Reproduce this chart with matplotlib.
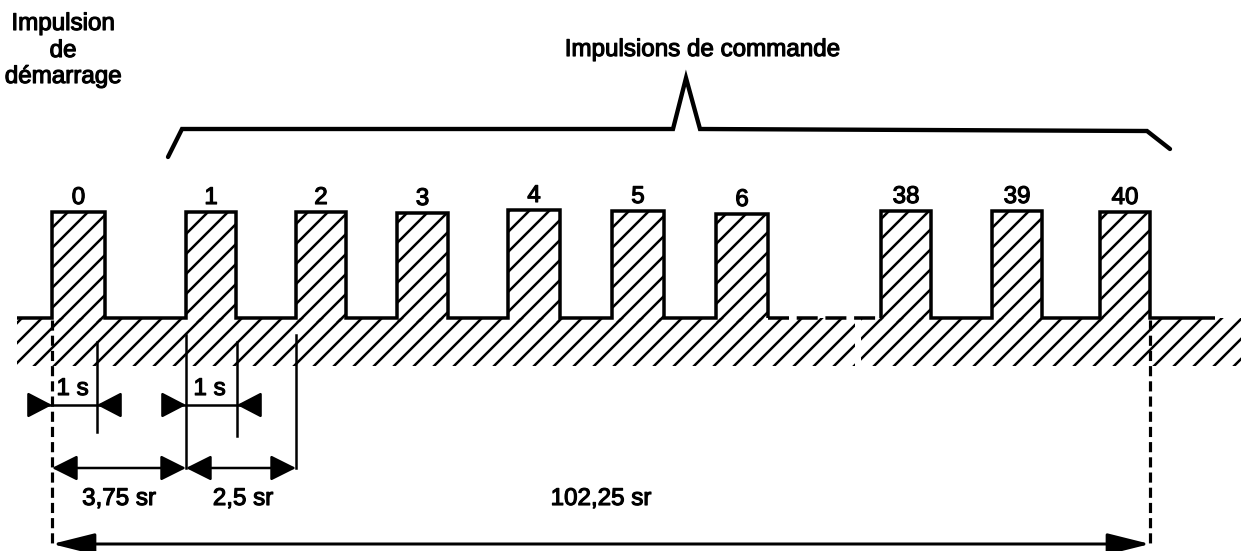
import matplotlib
matplotlib.use("Agg")
import matplotlib.pyplot as plt
from matplotlib.patches import Rectangle
import matplotlib.patheffects as pe

# ---------------- data (diagram units = pixels of the drawing) ----------------
pulse_labels = ["0", "1", "2", "3", "4", "5", "6", "38", "39", "40"]
pulse_start = [52, 186, 296, 397, 508, 612, 716, 881, 992, 1100]
pulse_end = [105, 236, 346, 448, 560, 664, 768, 931, 1042, 1150]
pulse_top = [212, 212, 212, 213, 210, 211, 214, 211, 211, 212]
break_after = 6          # index of last pulse before the interrupted section
baseline_level = 318
line_start, line_end = 17, 1215

dim_labels = ["3,75 sr", "2,5 sr", "102,25 sr"]
one_s_label = "1 s"

# ---------------- figure ----------------
DPI = 120
fig = plt.figure(figsize=(1241 / DPI, 551 / DPI), dpi=DPI)
ax = fig.add_axes([0, 0, 1, 1])
ax.set_xlim(0, 1241)
ax.set_ylim(551, 0)
ax.axis("off")

plt.rcParams["hatch.linewidth"] = 1.5
FONT = "Liberation Sans"
FS = 14.5
LW = 2.1
K = "black"
TXT = dict(fontsize=FS, family=FONT, color=K,
           path_effects=[pe.withStroke(linewidth=0.7, foreground=K)])

# ground hatched band (with a break)
gap_x = 858
ax.add_patch(Rectangle((line_start, baseline_level), gap_x - 3 - line_start, 48,
                       fill=False, hatch="//", lw=0, edgecolor=K))
ax.add_patch(Rectangle((gap_x + 3, baseline_level), 1241 - gap_x, 48,
                       fill=False, hatch="//", lw=0, edgecolor=K))

# pulses: hatch fill
for s, e, t in zip(pulse_start, pulse_end, pulse_top):
    ax.add_patch(Rectangle((s, t), e - s, baseline_level - t + 4,
                           fill=False, hatch="//", lw=0, edgecolor=K))


def wave(idx, x0, x1):
    xs, ys = [x0], [baseline_level]
    for i in idx:
        xs += [pulse_start[i], pulse_start[i], pulse_end[i], pulse_end[i]]
        ys += [baseline_level, pulse_top[i], pulse_top[i], baseline_level]
    xs.append(x1)
    ys.append(baseline_level)
    ax.plot(xs, ys, color=K, lw=LW, solid_joinstyle="miter", solid_capstyle="butt")


wave(range(0, break_after + 1), line_start, pulse_end[break_after])
wave(range(break_after + 1, len(pulse_labels)), pulse_start[break_after + 1], line_end)
ax.plot([pulse_end[break_after], pulse_start[break_after + 1]],
        [baseline_level, baseline_level], color=K, lw=LW, dashes=(6, 2.2))

# pulse labels
for lab, s, e, t in zip(pulse_labels, pulse_start, pulse_end, pulse_top):
    ax.text((s + e) / 2, t - 8, lab, ha="center", va="baseline", **TXT)

# top texts
for txt, y in zip(["Impulsion", "de", "démarrage"], [30, 57, 83]):
    ax.text(63, y, txt, ha="center", va="baseline", **TXT)
ax.text(702, 56, "Impulsions de commande", ha="center", va="baseline", **TXT)

# brace
bx = [168, 182, 673, 686, 700, 1147, 1170]
by = [157, 129, 129, 78, 129, 131, 149]
ax.plot(bx, by, color=K, lw=2.6, solid_joinstyle="miter", solid_capstyle="round")

# ---------------- dimensions ----------------
x0 = pulse_start[0]
x1 = pulse_start[1]
x2 = pulse_start[2]
xN = pulse_end[-1]
DLW = 1.5

# dashed extension lines
for x in (x0, xN):
    ax.plot([x, x], [baseline_level + 2, 545], color=K, lw=1.9, dashes=(3.2, 1.6))

# solid extension lines
ax.plot([x1, x1], [335, 468], color=K, lw=DLW)
ax.plot([x2, x2], [335, 468], color=K, lw=DLW)
t0 = x0 + (pulse_end[0] - pulse_start[0]) - 8   # 1 s mark after start pulse
t1 = x1 + (pulse_end[1] - pulse_start[1]) + 1
ax.plot([t0, t0], [342, 432], color=K, lw=DLW)
ax.plot([t1, t1], [342, 436], color=K, lw=DLW)

small = dict(arrowstyle="-|>,head_length=1.25,head_width=0.65", mutation_scale=10,
             lw=DLW, color=K, shrinkA=0, shrinkB=0)
both = dict(arrowstyle="<|-|>,head_length=1.3,head_width=0.65", mutation_scale=10,
            lw=DLW, color=K, shrinkA=0, shrinkB=0)
big = dict(arrowstyle="<|-|>,head_length=2.2,head_width=0.55", mutation_scale=10,
           lw=1.8, color=K, shrinkA=0, shrinkB=0)

# 1 s dimensions (arrows pointing inward from outside)
for a, b in ((x0, t0), (x1, t1)):
    ax.plot([a - 20, b + 16], [405, 405], color=K, lw=DLW)
    ax.annotate("", xy=(a, 405), xytext=(a - 20, 405), arrowprops=small)
    ax.annotate("", xy=(b, 405), xytext=(b + 16, 405), arrowprops=small)
    ax.text((a + b) / 2 - 2, 395, one_s_label, ha="center", va="baseline", **TXT)

# 3,75 sr and 2,5 sr
ax.annotate("", xy=(x1, 468), xytext=(x0, 468), arrowprops=both)
ax.annotate("", xy=(x2, 468), xytext=(x1, 468), arrowprops=both)
ax.text(119, 505, dim_labels[0], ha="center", va="baseline", **TXT)
ax.text(243, 505, dim_labels[1], ha="center", va="baseline", **TXT)

# 102,25 sr
ax.annotate("", xy=(xN, 544), xytext=(x0, 544), arrowprops=big)
ax.text(601, 505, dim_labels[2], ha="center", va="baseline", **TXT)

fig.savefig("out.png", dpi=DPI)
